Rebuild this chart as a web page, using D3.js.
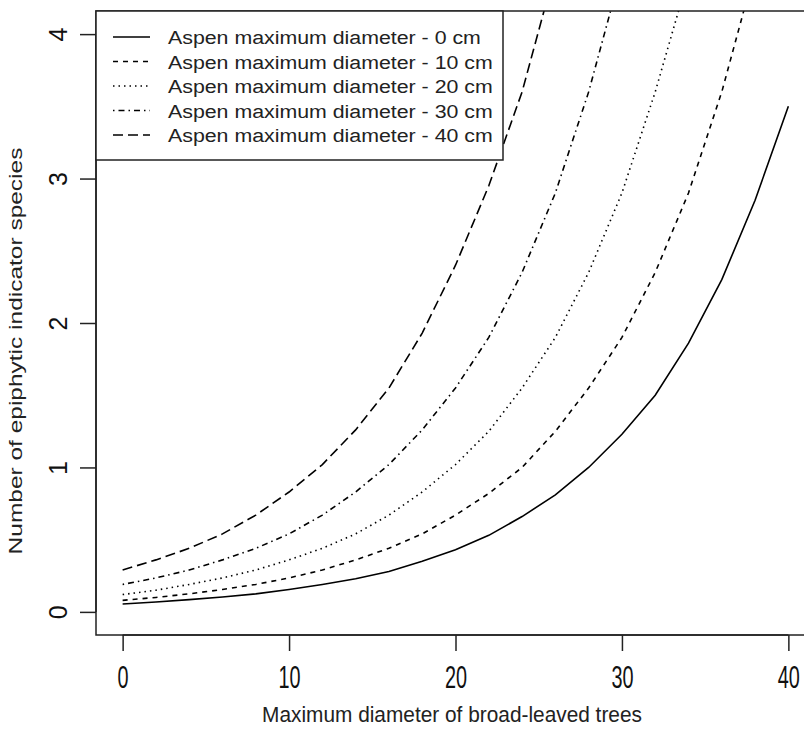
<!DOCTYPE html>
<html>
<head>
<meta charset="utf-8">
<script src="https://cdn.jsdelivr.net/npm/d3@7"></script>
<style>
  body { margin: 0; background: #fff; }
  svg { display: block; font-family: "Liberation Sans", Arial, sans-serif; }
</style>
</head>
<body>
<div id="chart"></div>
<script>
// broad-leaved tree diameter (cm) at which the predictions were read
var broadDiam = [0, 2, 4, 6, 8, 10, 12, 14, 16, 18, 20, 22, 24, 26, 28, 30, 32, 34, 36, 38, 40];

// predicted number of indicator species, one array per aspen diameter
var aspen0  = [0.055, 0.068, 0.085, 0.103, 0.125, 0.155, 0.19, 0.23, 0.28, 0.35, 0.43,
	0.53, 0.66, 0.81, 1.0, 1.23, 1.5, 1.86, 2.3, 2.85, 3.5];
var aspen10 = [0.08, 0.1, 0.125, 0.155, 0.19, 0.235, 0.29, 0.36, 0.44, 0.54, 0.67,
	0.82, 1.0, 1.25, 1.55, 1.9, 2.35, 2.9, 3.6, 4.45];
var aspen20 = [0.12, 0.15, 0.19, 0.235, 0.29, 0.36, 0.44, 0.54, 0.67, 0.83, 1.02,
	1.25, 1.55, 1.9, 2.35, 2.9, 3.6, 4.4];
var aspen30 = [0.19, 0.235, 0.29, 0.36, 0.44, 0.54, 0.67, 0.83, 1.02, 1.26, 1.55,
	1.9, 2.35, 2.9, 3.6, 4.45];
var aspen40 = [0.29, 0.36, 0.44, 0.54, 0.67, 0.83, 1.02, 1.26, 1.55, 1.93, 2.4,
	2.95, 3.6, 4.45];

var seriesNames = ['Aspen maximum diameter - 0 cm', 'Aspen maximum diameter - 10 cm',
	'Aspen maximum diameter - 20 cm', 'Aspen maximum diameter - 30 cm', 'Aspen maximum diameter - 40 cm'];
var xTicks = [0, 10, 20, 30, 40];
var yTicks = [0, 1, 2, 3, 4];

var dashes = [null, '5,5', '1.5,4', '1.5,4,6,4', '10,5']; // R lty 1..5

var W = 804, H = 729;
var box = {left: 96, right: 815, top: 11, bottom: 635};

var x = d3.scaleLinear().domain([-1.6, 41.6]).range([box.left, box.right]);
var y = d3.scaleLinear().domain([-0.16, 4.16]).range([box.bottom, box.top]);

var svg = d3.select('#chart').append('svg')
	.attr('width', W).attr('height', H);

svg.append('defs').append('clipPath').attr('id', 'plotclip')
	.append('rect')
	.attr('x', box.left).attr('y', box.top)
	.attr('width', box.right - box.left).attr('height', box.bottom - box.top);

var allSeries = [aspen0, aspen10, aspen20, aspen30, aspen40];

var line = d3.line()
	.x(function(d){ return x(d[0]); })
	.y(function(d){ return y(d[1]); });

svg.append('g').attr('clip-path', 'url(#plotclip)')
	.selectAll('path')
	.data(allSeries)
	.join('path')
	.attr('d', function(vals){ return line(vals.map(function(v, i){ return [broadDiam[i], v]; })); })
	.attr('fill', 'none')
	.attr('stroke', '#000')
	.attr('stroke-width', 1.6)
	.attr('stroke-dasharray', function(d, i){ return dashes[i]; });

// plot frame
svg.append('rect')
	.attr('x', box.left).attr('y', box.top)
	.attr('width', box.right - box.left).attr('height', box.bottom - box.top)
	.attr('fill', 'none').attr('stroke', '#222').attr('stroke-width', 1.5);

// x axis
var xAxis = svg.append('g').attr('transform', 'translate(0,' + box.bottom + ')')
	.call(d3.axisBottom(x).tickValues(xTicks).tickSize(16).tickSizeOuter(0).tickFormat(d3.format('d')));
xAxis.select('.domain').attr('stroke', '#222').attr('stroke-width', 1.5)
	.attr('d', 'M' + x(0) + ',0H' + x(40));
xAxis.selectAll('.tick line').attr('stroke', '#222').attr('stroke-width', 1.5);
xAxis.selectAll('.tick text')
	.attr('y', 0).attr('dy', 0)
	.attr('font-size', 32).attr('fill', '#111')
	.attr('transform', 'translate(0,53) scale(0.62,1)');

// y axis
var yAxis = svg.append('g').attr('transform', 'translate(' + box.left + ',0)')
	.call(d3.axisLeft(y).tickValues(yTicks).tickSize(16).tickSizeOuter(0).tickFormat(d3.format('d')));
yAxis.select('.domain').attr('stroke', '#222').attr('stroke-width', 1.5)
	.attr('d', 'M0,' + y(0) + 'V' + y(4));
yAxis.selectAll('.tick line').attr('stroke', '#222').attr('stroke-width', 1.5);
yAxis.selectAll('.tick text')
	.attr('x', 0).attr('dy', 0)
	.attr('text-anchor', 'middle')
	.attr('font-size', 25).attr('fill', '#111')
	.attr('transform', 'translate(-29,0) rotate(-90)');

// axis titles, squeezed to the measured widths of the picture
function fitText(sel, target){
	var len = sel.node().getComputedTextLength();
	return target / len;
}

var xt = svg.append('text')
	.attr('text-anchor', 'middle').attr('font-size', 22).attr('fill', '#222')
	.text('Maximum diameter of broad-leaved trees');
var kx = fitText(xt, 380);
xt.attr('transform', 'translate(' + 452 + ',' + 722 + ') scale(' + kx + ',1)');

var yt = svg.append('text')
	.attr('text-anchor', 'middle').attr('font-size', 19).attr('fill', '#222')
	.text('Number of epiphytic indicator species');
var ky = fitText(yt, 407);
yt.attr('transform', 'translate(22,351) rotate(-90) scale(' + ky + ',1)');

// legend
var legend = svg.append('g');
legend.append('rect')
	.attr('x', box.left).attr('y', box.top)
	.attr('width', 407).attr('height', 149)
	.attr('fill', '#fff').attr('stroke', '#222').attr('stroke-width', 1.5);

var rowY = d3.scalePoint().domain(d3.range(seriesNames.length)).range([37, 135]);

legend.selectAll('line')
	.data(seriesNames)
	.join('line')
	.attr('x1', 113).attr('x2', 150)
	.attr('y1', function(d, i){ return rowY(i); })
	.attr('y2', function(d, i){ return rowY(i); })
	.attr('stroke', '#000').attr('stroke-width', 1.6)
	.attr('stroke-dasharray', function(d, i){ return dashes[i]; });

var labels = legend.selectAll('text.lab')
	.data(seriesNames)
	.join('text')
	.classed('lab', true)
	.attr('font-size', 19).attr('fill', '#222')
	.text(function(d){ return d; });
var kl = fitText(labels.filter(function(d, i){ return i === 1; }), 325);
labels.attr('transform', function(d, i){
	return 'translate(168,' + (rowY(i) + 7) + ') scale(' + kl + ',1)';
});
</script>
</body>
</html>
